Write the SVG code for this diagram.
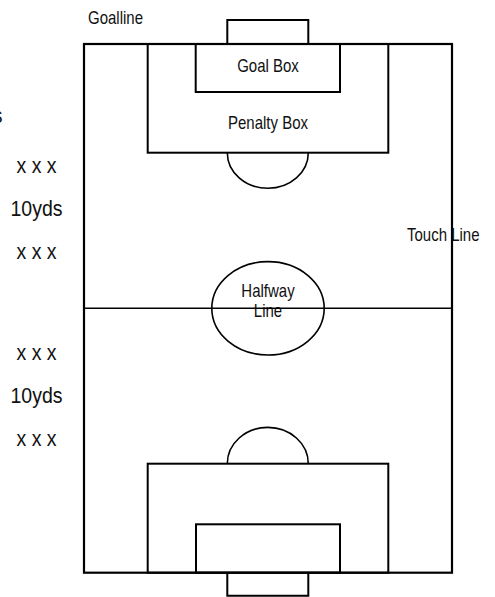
<svg xmlns="http://www.w3.org/2000/svg" width="495" height="597" viewBox="0 0 495 597">
<style>
.ln{fill:none;stroke:#000;stroke-width:2}
.th{fill:none;stroke:#000;stroke-width:1.6}
.t{font-family:"Liberation Sans",Arial,sans-serif;font-size:15px;fill:#111}
.s{font-family:"Liberation Sans",Arial,sans-serif;font-size:19.5px;fill:#111;text-anchor:middle}
.m{text-anchor:middle}
</style>
<rect width="495" height="597" fill="#fff"/>
<g id="labels-left">
<text class="s" transform="translate(2.5,123) scale(1,1.13)" style="text-anchor:end">s</text>
<text class="s" transform="translate(36.5,173) scale(1,1.13)">x x x</text>
<text class="s" transform="translate(36.5,216) scale(1,1.13)">10yds</text>
<text class="s" transform="translate(36.5,258.5) scale(1,1.13)">x x x</text>
<text class="s" transform="translate(36.5,360) scale(1,1.13)">x x x</text>
<text class="s" transform="translate(36.5,403) scale(1,1.13)">10yds</text>
<text class="s" transform="translate(36.5,446) scale(1,1.13)">x x x</text>
</g>
<g id="goalline-label">
<text class="t" transform="translate(88,24) scale(1,1.2)">Goalline</text>
</g>
<g id="touchline-label">
<text class="t" transform="translate(407,240.7) scale(1,1.2)">Touch Line</text>
</g>
<g id="top-goal"><path class="ln" d="M227.3,44 V20 H308.3 V44"/></g>
<g id="top-penalty-box">
<rect class="ln" x="147.7" y="44" width="240.6" height="108.7"/>
<text class="t m" transform="translate(268,129) scale(1,1.2)">Penalty Box</text>
</g>
<g id="top-goal-box">
<rect class="ln" x="195.7" y="44" width="144.3" height="48"/>
<text class="t m" transform="translate(268,72.3) scale(1,1.2)">Goal Box</text>
</g>
<g id="top-arc"><path class="th" d="M227.3,152.7 A40.5,35.6 0 0 0 308.3,152.7"/></g>
<g id="center-circle">
<text class="t m" transform="translate(268,296.7) scale(1,1.2)">Halfway</text>
<text class="t m" transform="translate(268,317.3) scale(1,1.2)">Line</text>
<ellipse class="th" cx="268" cy="308.3" rx="56.2" ry="46.7"/>
</g>
<g id="halfway-line"><line class="th" x1="84" y1="308.3" x2="452" y2="308.3"/></g>
<g id="bottom-arc"><path class="th" d="M227.3,463.7 A40.5,36.4 0 0 1 308.3,463.7"/></g>
<g id="bottom-penalty-box"><rect class="ln" x="147.7" y="463.7" width="240.6" height="109"/></g>
<g id="bottom-goal-box"><rect class="ln" x="196" y="524.3" width="144" height="48.4"/></g>
<g id="bottom-goal"><path class="ln" d="M227.3,572.7 V595.7 H308.3 V572.7"/></g>
<g id="field"><rect class="ln" x="84" y="44" width="368" height="528.7" style="stroke-width:2.2"/></g>
</svg>
